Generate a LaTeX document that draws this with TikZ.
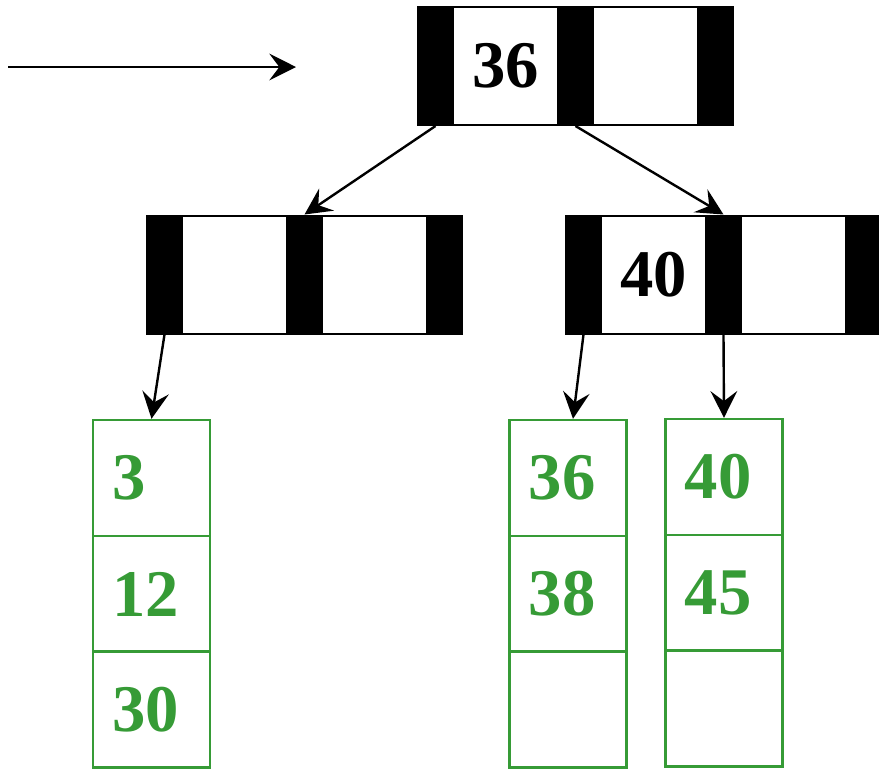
\documentclass[tikz,border=0pt]{standalone}
\usepackage{fontspec}
\setmainfont{Liberation Serif}
\usetikzlibrary{arrows.meta,positioning}
\definecolor{leafgreen}{RGB}{54,155,54}
\begin{document}
\begin{tikzpicture}[x=0.75pt, y=-0.75pt, thick]

	\tikzstyle{bar}=[rectangle, fill=black, draw=black, line width=1.5pt, minimum width=26.25pt, minimum height=88.5pt, inner sep=0pt]
	\tikzstyle{key}=[rectangle, draw=black, line width=1.5pt, minimum width=78.75pt, minimum height=88.5pt, inner sep=0pt, font=\bfseries\fontsize{50}{50}\selectfont]
	\tikzstyle{leaf}=[rectangle, draw=leafgreen, line width=1.8pt, text=leafgreen, minimum width=87.75pt, minimum height=87pt, inner xsep=14.5pt, inner ysep=0pt, text width=58.75pt, align=left, font=\bfseries\fontsize{50}{50}\selectfont]
	\tikzstyle{link}=[-{Stealth[length=20pt, width=20pt, inset=7.5pt]}, line width=1.8pt]

	\useasboundingbox (0,0) rectangle (879,769);

	% Root node
	\node[key] (tk1) at (505.5,66) {36};
	\node[key] (tk2) at (645.5,66) {};
	\node[bar] (tp0) at (435.5,66) {};
	\node[bar] (tp1) at (575.5,66) {};
	\node[bar] (tp2) at (715.5,66) {};

	% Inner nodes
	\node[key] (lk1) at (234.5,274.5) {};
	\node[key] (lk2) at (374.5,274.5) {};
	\node[bar] (lp0) at (164.5,274.5) {};
	\node[bar] (lp1) at (304.5,274.5) {};
	\node[bar] (lp2) at (444.5,274.5) {};

	\node[key] (rk1) at (653.5,274.5) {40};
	\node[key] (rk2) at (793.5,274.5) {};
	\node[bar] (rp0) at (583.5,274.5) {};
	\node[bar] (rp1) at (723.5,274.5) {};
	\node[bar] (rp2) at (863.5,274.5) {};

	% Leaves
	\node[leaf] (a1) at (151.5,478) {3};
	\node[leaf] (a2) at (151.5,594) {12};
	\node[leaf] (a3) at (151.5,709.5) {30};

	\node[leaf] (b1) at (568,478) {36};
	\node[leaf] (b2) at (568,594) {38};
	\node[leaf] (b3) at (568,709.5) {};

	\node[leaf] (c1) at (724,477) {40};
	\node[leaf] (c2) at (724,593) {45};
	\node[leaf] (c3) at (724,708.5) {};

	% Links
	\coordinate (start) at (8,67);
	\coordinate (entry) at (296,67);
	\draw[link] (start) -- (entry);

	\draw[link] (tp0.south) -- (lp1.north);
	\draw[link] (tp1.south) -- (rp1.north);

	\draw[link] (lp0.south) -- (a1.north);
	\draw[link] (rp0.south) -- ([xshift=3.75pt]b1.north);
	\draw[link] (rp1.south) -- (c1.north);
\end{tikzpicture}
\end{document}
